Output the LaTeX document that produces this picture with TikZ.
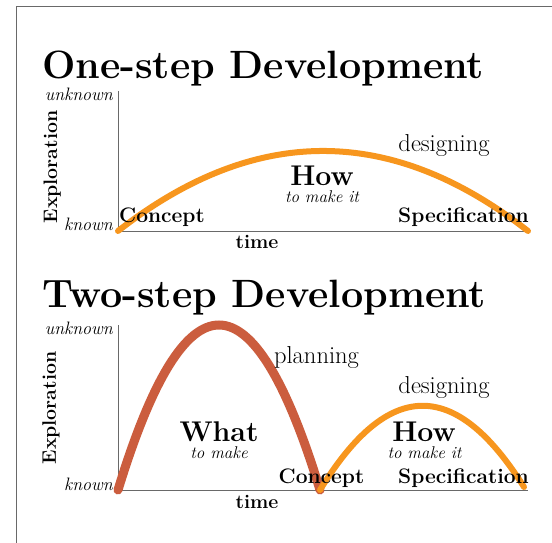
\documentclass[tikz,border=0pt]{standalone}
\usepackage{fontspec}
\usepackage{tikz}
\usepackage{xcolor}
\usetikzlibrary{positioning}
\definecolor{devorange}{RGB}{247, 150, 30}
\definecolor{devred}{RGB}{203, 93, 62}
\definecolor{axisgray}{RGB}{105, 105, 105}
\tikzset{
    titletext/.style={anchor=base west, inner sep=0pt, font=\fontsize{39.5}{41}\selectfont\bfseries},
    levellabel/.style={anchor=base east, inner sep=0pt, font=\fontsize{18}{20}\selectfont\itshape},
    axislabel/.style={anchor=base, inner sep=0pt, font=\fontsize{19.5}{21}\selectfont\bfseries},
    milestone/.style={anchor=base, inner sep=0pt, font=\fontsize{21}{23}\selectfont\bfseries},
    phase/.style={anchor=base, inner sep=0pt, font=\fontsize{24.5}{26}\selectfont},
    goal/.style={anchor=base, inner sep=0pt, font=\fontsize{28.5}{30}\selectfont\bfseries},
    goalsub/.style={anchor=base, inner sep=0pt, font=\fontsize{17}{19}\selectfont\itshape},
    axisline/.style={draw=axisgray, line width=1pt},
    designcurve/.style={draw=devorange, line width=6pt, line cap=round},
    plancurve/.style={draw=devred, line width=9pt, line cap=round}
}

\begin{document}
\begin{tikzpicture}[x=1pt, y=-1pt]
                    \useasboundingbox (0,0) rectangle (552,543);
                    \draw[axisgray, line width=1pt] (16,543) -- (16,7) -- (552,7);

                    % one-step
                    \node[titletext] (title1) at (42,78) {One-step Development};
                    \coordinate (origin1) at (118,231);
                    \coordinate (ytop1) at (118,91);
                    \coordinate (xend1) at (528,231);
                    \draw[axisline] (ytop1) -- (origin1) -- (xend1);
                    \node[levellabel] (unknown1) at (113,100) {unknown};
                    \node[levellabel] (known1) at (113,230) {known};
                    \node[axislabel, rotate=90] (explore1) at (57,167) {Exploration};
                    \node[axislabel] (time1) at (257,248) {time};
                    \coordinate (spec1) at (528,231);
                    \draw[designcurve] (origin1) .. controls (254.7,124.3) and (391.3,124.3) .. (spec1);
                    \node[milestone, anchor=base west] (concept1) at (119,222) {Concept};
                    \node[milestone, anchor=base east] (specification1) at (529,222) {Specification};
                    \node[phase] (designing1) at (444,151.5) {designing};
                    \node[goal] (how1) at (322,185) {How};
                    \node[goalsub] (howsub1) at (322,202) {to make it};

                    % two-step
                    \node[titletext] (title2) at (42,307) {Two-step Development};
                    \coordinate (origin2) at (118,490);
                    \coordinate (ytop2) at (118,325);
                    \coordinate (xend2) at (528,490);
                    \draw[axisline] (ytop2) -- (origin2) -- (xend2);
                    \node[levellabel] (unknown2) at (113,334) {unknown};
                    \node[levellabel] (known2) at (113,490) {known};
                    \node[axislabel, rotate=90] (explore2) at (56,408) {Exploration};
                    \node[axislabel] (time2) at (257,508) {time};
                    \coordinate (concept) at (320,490);
                    \coordinate (spec2) at (524,487);
                    \draw[plancurve] (origin2) .. controls (185.3,270) and (252.7,270) .. (concept);
                    \draw[designcurve] (concept) .. controls (388,378.7) and (455.3,377.7) .. (spec2);
                    \node[phase] (planning) at (316.5,363) {planning};
                    \node[phase] (designing2) at (444,393) {designing};
                    \node[goal] (what) at (219,441.5) {What};
                    \node[goalsub] (whatsub) at (219,458) {to make};
                    \node[goal] (how2) at (424,441.5) {How};
                    \node[goalsub] (howsub2) at (424.5,458) {to make it};
                    \node[milestone] (concept2) at (321.5,483) {Concept};
                    \node[milestone, anchor=base east] (specification2) at (529,483) {Specification};
                \end{tikzpicture}
\end{document}
